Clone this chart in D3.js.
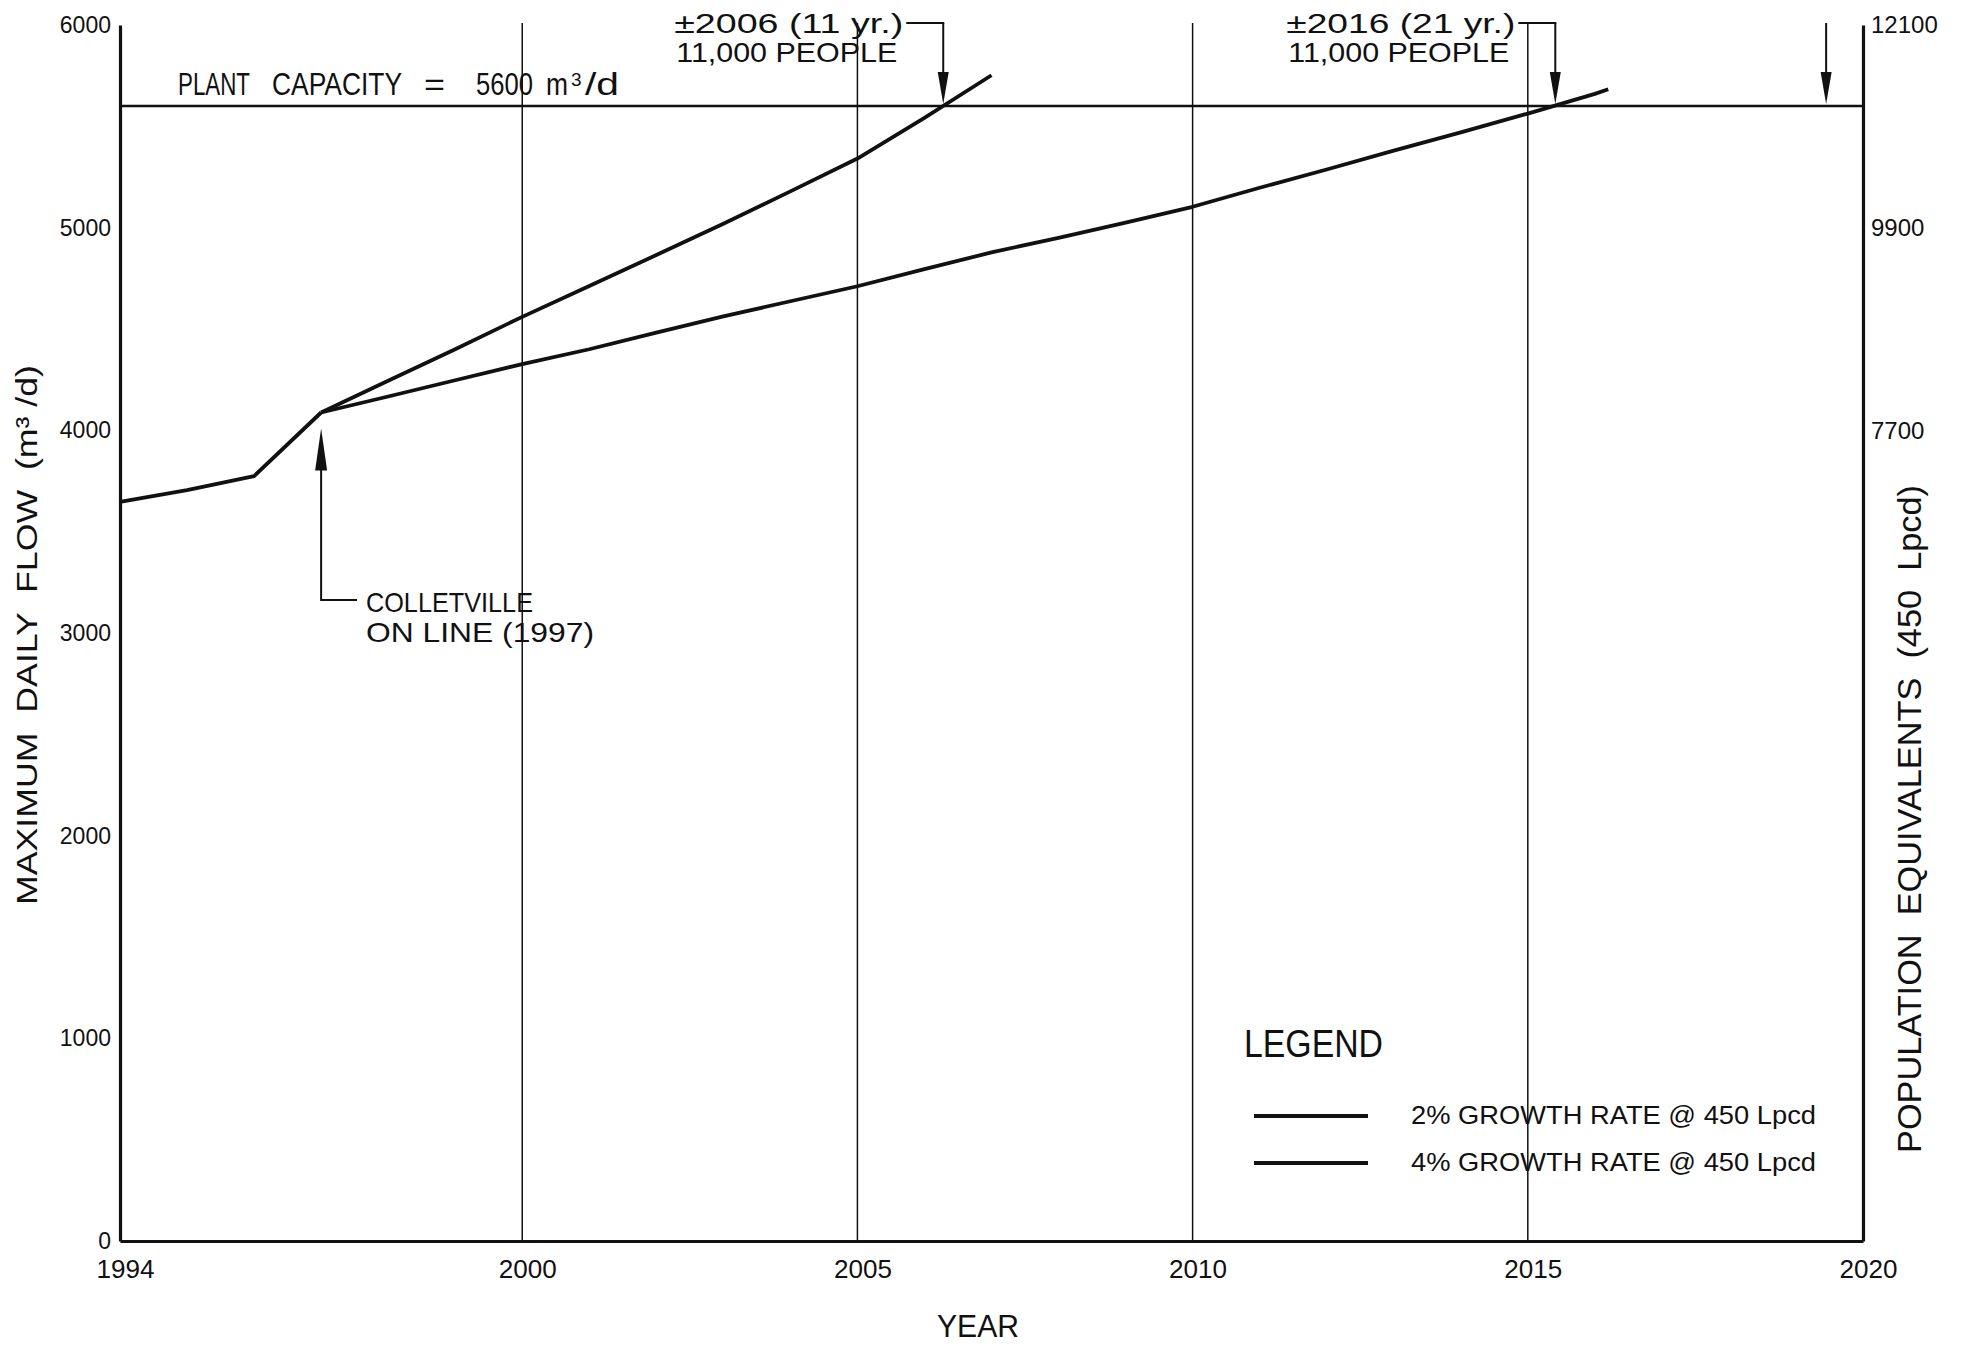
<!DOCTYPE html>
<html><head><meta charset="utf-8">
<script src="https://cdn.jsdelivr.net/npm/d3@7"></script>
<style>
body{margin:0;background:#fff;}
svg{display:block;background:#fff;}
.cad{font-family:"Liberation Sans",Arial,sans-serif;fill:#111;white-space:pre;}
.num{font-family:"Liberation Sans",Arial,sans-serif;fill:#111;}
</style></head><body>
<svg id="c" width="1965" height="1347"></svg>
<script>
// ---- data ----
const histYears = [1994, 1995, 1996, 1997];
const histFlow  = [3647, 3705, 3774, 4088];

const g4Years = [1997, 1998, 1999, 2000, 2001, 2002, 2003, 2004, 2005, 2006, 2007];
const g4Flow  = [4088, 4245, 4400, 4560, 4712, 4865, 5019, 5179, 5341, 5542, 5752];

const g2Years = [1997, 1998, 1999, 2000, 2001, 2002, 2003, 2004, 2005, 2006, 2007, 2008, 2009, 2010, 2011, 2012, 2013, 2014, 2015, 2016, 2016.2];
const g2Flow  = [4088, 4167, 4247, 4327, 4400, 4482, 4562, 4637, 4711, 4795, 4878, 4950, 5025, 5103, 5197, 5287, 5380, 5470, 5563, 5660, 5683];

const xTicks = [1994, 2000, 2005, 2010, 2015, 2020];
const yTicks = [0, 1000, 2000, 3000, 4000, 5000, 6000];
const gridYears = [2000, 2005, 2010, 2015];
const rightTickAt = [4000, 5000, 6000];
const rightTickLabels = ["7700", "9900", "12100"];
const capacity = 5600;
const calloutYears = [2006.28, 2015.41, 2019.45];
const calloutLine1 = ["\u00B12006 (11 yr.)", "\u00B12016 (21 yr.)", ""];
const calloutLine2 = ["11,000 PEOPLE", "11,000 PEOPLE", ""];
const colletYear = 1997;
const colletLines = ["COLLETVILLE", "ON LINE (1997)"];
const legendLabels = ["2% GROWTH RATE @ 450 Lpcd", "4% GROWTH RATE @ 450 Lpcd"];

// ---- chart ----
const svg = d3.select("#c");
const x = d3.scaleLinear().domain([1994, 2020]).range([120, 1863]);
const y = d3.scaleLinear().domain([0, 6000]).range([1241, 25]);
const ink = "#111";

function cadText(str, px, py, size, len) {
  const t = svg.append("text").attr("class", "cad").attr("x", px).attr("y", py)
    .style("font-size", size + "px").text(str);
  if (len) t.attr("textLength", len).attr("lengthAdjust", "spacingAndGlyphs");
  return t;
}

// grid lines
svg.append("g").selectAll("line").data(gridYears).join("line")
  .attr("x1", d => x(d)).attr("x2", d => x(d))
  .attr("y1", y(6000) - 2).attr("y2", y(0))
  .attr("stroke", ink).attr("stroke-width", 1.5);

// capacity line
svg.append("line")
  .attr("x1", x(1994)).attr("x2", x(2020))
  .attr("y1", y(capacity)).attr("y2", y(capacity))
  .attr("stroke", ink).attr("stroke-width", 2.6);

// axes
const left = svg.append("g").attr("transform", `translate(${x(1994)},0)`)
  .call(d3.axisLeft(y).tickValues(yTicks).tickSize(0).tickPadding(9).tickFormat(d3.format("d")));
const bottom = svg.append("g").attr("transform", `translate(0,${y(0)})`)
  .call(d3.axisBottom(x).tickValues(xTicks).tickSize(0).tickPadding(19).tickFormat(d3.format("d")));
const right = svg.append("g").attr("transform", `translate(${x(2020)},0)`)
  .call(d3.axisRight(y).tickValues(rightTickAt).tickSize(0).tickPadding(8).tickFormat((d, i) => rightTickLabels[i]));
[left, bottom, right].forEach(a => {
  a.select(".domain").attr("stroke", ink).attr("stroke-width", 3.2);
  a.selectAll("text").attr("class", "num").attr("fill", ink);
});
left.selectAll("text").style("font-size", "23px");
right.selectAll("text").style("font-size", "24px");
bottom.selectAll("text").style("font-size", "25px").attr("dx", 5)
  .attr("textLength", 58).attr("lengthAdjust", "spacingAndGlyphs");

// data lines
const line = d3.line().x(d => x(d[0])).y(d => y(d[1]));
const series = [
  d3.zip(histYears, histFlow),
  d3.zip(g4Years, g4Flow),
  d3.zip(g2Years, g2Flow)
];
svg.append("g").selectAll("path").data(series).join("path")
  .attr("d", line).attr("fill", "none").attr("stroke", ink)
  .attr("stroke-width", 3.8).attr("stroke-linejoin", "round").attr("stroke-linecap", "butt");

// arrowhead helper (dir 1 = pointing down, -1 = pointing up)
function head(tx, ty, dir, len = 32, w = 11) {
  svg.append("path")
    .attr("d", `M${tx},${ty} L${tx - w / 2},${ty - dir * len} L${tx + w / 2},${ty - dir * len} Z`)
    .attr("fill", ink);
}

// callouts at the top
calloutYears.forEach((yr, i) => {
  const tx = x(yr), ty = y(capacity) - 2, top = y(6000) - 2;
  svg.append("line").attr("x1", tx).attr("x2", tx).attr("y1", top).attr("y2", ty - 20)
    .attr("stroke", ink).attr("stroke-width", 2);
  head(tx, ty, 1);
  if (calloutLine1[i]) {
    svg.append("line").attr("x1", tx - 37).attr("x2", tx + 1).attr("y1", top).attr("y2", top)
      .attr("stroke", ink).attr("stroke-width", 2);
    cadText(calloutLine1[i], tx - 40 - 229, 33, 28, 229);
    cadText(calloutLine2[i], tx - 46 - 221, 62, 28, 221);
  }
});

// plant capacity label (pieces placed as in the drawing)
cadText("PLANT", 178, 95, 31, 72);
cadText("CAPACITY", 272, 95, 31, 130);
cadText("=", 424, 95, 31, 21);
cadText("5600", 476, 95, 31, 57);
cadText("m", 546, 95, 31, 22);
cadText("3", 571, 86, 19);
cadText("/d", 585, 95, 31, 34);

// Colletville annotation
{
  const tx = x(colletYear), tip = y(histFlow[histFlow.length - 1]) + 16;
  head(tx, tip, -1, 42, 12);
  svg.append("path").attr("d", `M${tx},${tip + 40} V600 H357`)
    .attr("fill", "none").attr("stroke", ink).attr("stroke-width", 2);
  cadText(colletLines[0], 366, 612, 28, 167);
  cadText(colletLines[1], 366, 642, 28, 228);
}

// legend
cadText("LEGEND", 1244, 1057, 38, 139);
legendLabels.forEach((lab, i) => {
  const ly = 1116 + i * 47;
  svg.append("line").attr("x1", 1254).attr("x2", 1368).attr("y1", ly).attr("y2", ly)
    .attr("stroke", ink).attr("stroke-width", 3.8);
  cadText(lab, 1411, ly + 8, 25, 405);
});

// axis titles
cadText("YEAR", 978, 1337, 32, 82).attr("text-anchor", "middle");

svg.append("text").attr("class", "cad").attr("text-anchor", "middle")
  .attr("transform", "translate(37,635) rotate(-90)").style("font-size", "30px")
  .attr("textLength", 540).attr("lengthAdjust", "spacingAndGlyphs")
  .text("MAXIMUM  DAILY  FLOW  (m\u00B3 /d)");

svg.append("text").attr("class", "cad").attr("text-anchor", "middle")
  .attr("transform", "translate(1921,819) rotate(-90)").style("font-size", "33px")
  .attr("textLength", 668).attr("lengthAdjust", "spacingAndGlyphs")
  .text("POPULATION  EQUIVALENTS  (450  Lpcd)");
</script>
</body></html>
